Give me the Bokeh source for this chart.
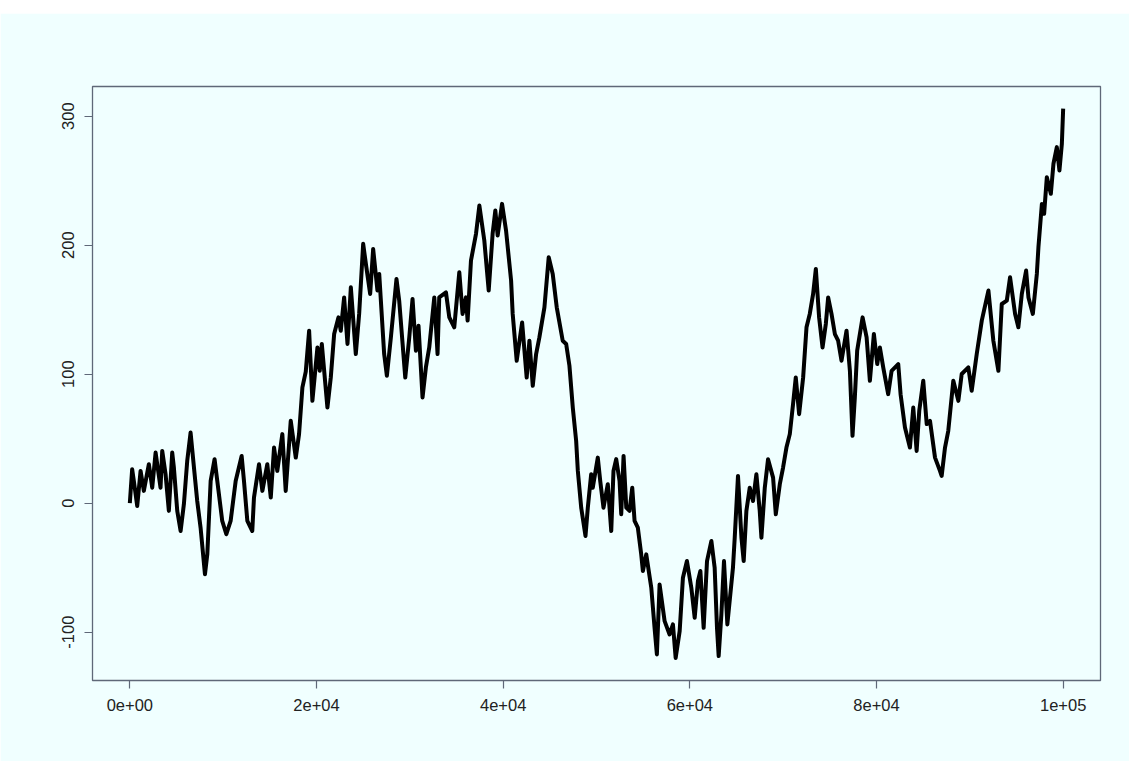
from bokeh.plotting import figure
from bokeh.models import Range1d, FixedTicker, ColumnDataSource, Spacer
from bokeh.layouts import column
from bokeh.embed import file_html
from bokeh.resources import INLINE

# step index (thousands) and random-walk value
step_k = [0, 0.25, 0.43, 0.79, 1.15, 1.5, 2.04, 2.4, 2.76, 3.29, 3.47, 3.83, 4.18, 4.54, 4.72,
          5.08, 5.44, 5.79, 6.15, 6.51, 6.87, 7.22, 7.58, 8.05, 8.3, 8.66, 9.08, 9.37, 9.9,
          10.34, 10.8, 11.34, 11.98, 12.23, 12.59, 13.12, 13.3, 13.84, 14.2, 14.73, 15.1,
          15.45, 15.8, 16.34, 16.7, 16.88, 17.24, 17.78, 18.13, 18.49, 18.85, 19.21, 19.56,
          20.1, 20.35, 20.57, 21.17, 21.53, 21.89, 22.35, 22.6, 22.96, 23.32, 23.68, 24.21,
          24.57, 25.0, 25.29, 25.75, 26.07, 26.53, 26.72, 27.25, 27.54, 27.97, 28.57, 28.86,
          29.51, 29.94, 30.29, 30.65, 30.93, 31.36, 31.72, 32.08, 32.62, 32.97, 33.15, 33.87,
          34.23, 34.76, 35.3, 35.65, 36.01, 36.19, 36.55, 37.09, 37.45, 37.98, 38.45, 38.87,
          39.16, 39.41, 39.88, 40.31, 40.85, 41.02, 41.45, 42.03, 42.52, 42.81, 43.17, 43.53,
          43.88, 44.42, 44.88, 45.31, 45.74, 46.38, 46.75, 47.1, 47.46, 47.82, 48.0, 48.36,
          48.82, 49.07, 49.43, 49.6, 50.14, 50.4, 50.75, 51.21, 51.58, 51.82, 52.11, 52.47,
          52.65, 52.9, 53.19, 53.54, 53.83, 54.08, 54.43, 54.79, 54.97, 55.33, 55.87, 56.22,
          56.47, 56.76, 57.3, 57.83, 58.19, 58.48, 58.91, 59.26, 59.69, 60.16, 60.52, 60.87,
          61.13, 61.48, 61.84, 62.31, 62.66, 62.91, 63.09, 63.38, 63.66, 64.02, 64.62, 64.81,
          65.16, 65.53, 65.77, 66.06, 66.42, 66.77, 67.13, 67.49, 67.67, 68.03, 68.38, 68.92,
          69.21, 69.64, 69.99, 70.35, 70.71, 71.06, 71.35, 71.71, 72.14, 72.5, 72.85, 73.21,
          73.5, 73.85, 74.22, 74.57, 74.82, 75.18, 75.54, 75.89, 76.25, 76.79, 77.15, 77.43,
          77.68, 77.93, 78.51, 78.94, 79.29, 79.72, 80.08, 80.36, 80.72, 81.25, 81.62, 82.33,
          82.58, 83.05, 83.58, 83.94, 84.3, 84.58, 85.01, 85.38, 85.73, 86.27, 86.8, 86.98,
          87.34, 87.69, 88.23, 88.77, 89.13, 89.84, 90.2, 90.74, 91.28, 91.99, 92.52, 93.06,
          93.42, 93.96, 94.31, 94.85, 95.2, 95.57, 96.03, 96.28, 96.75, 97.18, 97.35, 97.72,
          97.96, 98.25, 98.68, 98.96, 99.32, 99.6, 99.86, 100.0]
walk = [0, 26.3, 17.2, -2.2, 25, 9.5, 30.2, 12, 39.2, 12, 40.5, 22.4, -6, 39.2, 27.6,
        -6, -21.6, -0.9, 32.8, 54.7, 27.6, 1.7, -19, -55.2, -39.7, 17.2, 34.1, 17.2, -13.8,
        -24.1, -13.8, 17.2, 36.6, 17.2, -13.8, -21.6, 4.3, 30.2, 9.5, 30.2, 4.3,
        43.1, 25, 53.5, 9.5, 27.6, 63.8, 35.3, 53.5, 89.7, 102, 133.7, 79.3,
        120.7, 102.6, 123.4, 74.1, 97.4, 131.1, 144, 133.7, 159.5, 123.4, 167.3, 115.6,
        146.7, 201, 185.5, 162.2, 197.1, 164.8, 177.7, 115.6, 98.8, 128.5, 173.8, 157,
        97.4, 128.5, 158.3, 118.2, 137.6, 81.9, 105.2, 120.7, 159.5, 115.6, 159.5, 163.4,
        144, 136.3, 179, 146.7, 159.5, 141.5, 188, 208.8, 230.7, 203.6, 164.8, 208.8,
        226.9, 207.5, 232, 211.3, 172.5, 146.7, 110.4, 140.1, 97.4, 125.9, 91, 115.6,
        128.5, 151.8, 190.6, 177.7, 151.8, 125.9, 123.4, 106.5, 74.1, 48.3, 25, -3.5,
        -25.5, -3.5, 22.4, 12, 35.3, 17.2, -3.5, 14.7, -21.6, 25, 34.1, 17.2,
        -8.6, 36.6, -3.5, -6, 12, -13.8, -19, -39.7, -52.6, -39.7, -65.6, -96.7,
        -117.3, -63, -91.5, -101.8, -94, -120, -99.2, -57.8, -44.9, -65.6, -88.9, -60.4,
        -52.6, -96.7, -44.9, -29.3, -50.1, -96.7, -118.6, -86.3, -44.9, -94, -50.1, -26.8,
        21.1, -26.8, -44.9, -6, 12, 1.7, 22.4, -6, -26.8, 12, 34.1, 19.8,
        -8.6, 14.7, 27.6, 43.1, 53.5, 76.8, 97.4, 69, 97.4, 136.3, 146.7, 162.2,
        181.6, 144, 120.7, 138.9, 159.5, 146.7, 131.1, 125.9, 110.4, 133.7, 102.6, 52.2,
        81.9, 118.2, 144, 128.5, 94.9, 131.1, 107.8, 120.7, 105.2, 84.5, 102.6, 107.8,
        84.5, 58.6, 43.1, 74.1, 40.5, 71.6, 94.9, 61.3, 63.8, 35.3, 25, 21.1,
        43.1, 56.1, 94.9, 79.3, 100.1, 105.2, 87.1, 115.6, 141.5, 164.8, 125.9, 102.6,
        154.4, 157, 175.1, 146.7, 136.3, 162.2, 180.3, 159.5, 146.7, 177.7, 198.4, 232,
        224.3, 252.7, 239.8, 263.1, 276, 257.9, 278.6, 305.8]

x_ticks = [0, 20000, 40000, 60000, 80000, 100000]
x_tick_labels = ["0e+00", "2e+04", "4e+04", "6e+04", "8e+04", "1e+05"]
y_ticks = [-100, 0, 100, 200, 300]
y_tick_labels = ["-100", "0", "100", "200", "300"]

source = ColumnDataSource(data=dict(x=[k * 1000 for k in step_k], y=walk))

BG = "#F0FFFF"
AXC = "#5f6878"
TXT = "#222222"

p = figure(width=1129, height=748, output_backend="svg", toolbar_location=None,
           x_range=Range1d(-4000, 104000), y_range=Range1d(-137.5, 323),
           background_fill_color=BG, border_fill_color=BG,
           min_border_left=92, min_border_right=29, min_border_top=73, min_border_bottom=81)

p.line("x", "y", source=source, line_color="black", line_width=4, line_join="round")

p.grid.visible = False
p.outline_line_color = AXC
p.outline_line_width = 1.3

for ax in (p.xaxis[0], p.yaxis[0]):
    ax.axis_line_color = None
    ax.major_tick_line_color = AXC
    ax.major_tick_line_width = 1.2
    ax.major_tick_out = 8
    ax.major_tick_in = 0
    ax.minor_tick_line_color = None
    ax.major_label_text_font = "Liberation Sans"
    ax.major_label_text_font_size = "16.5px"
    ax.major_label_text_color = TXT
    ax.major_label_standoff = 10

p.xaxis[0].ticker = FixedTicker(ticks=x_ticks)
p.xaxis[0].major_label_overrides = dict(zip(x_ticks, x_tick_labels))
p.yaxis[0].ticker = FixedTicker(ticks=y_ticks)
p.yaxis[0].major_label_overrides = dict(zip(y_ticks, y_tick_labels))
p.yaxis[0].major_label_orientation = "vertical"

layout = column(Spacer(height=13, width=1129), p)

open("out.html", "w").write(file_html(layout, INLINE))
